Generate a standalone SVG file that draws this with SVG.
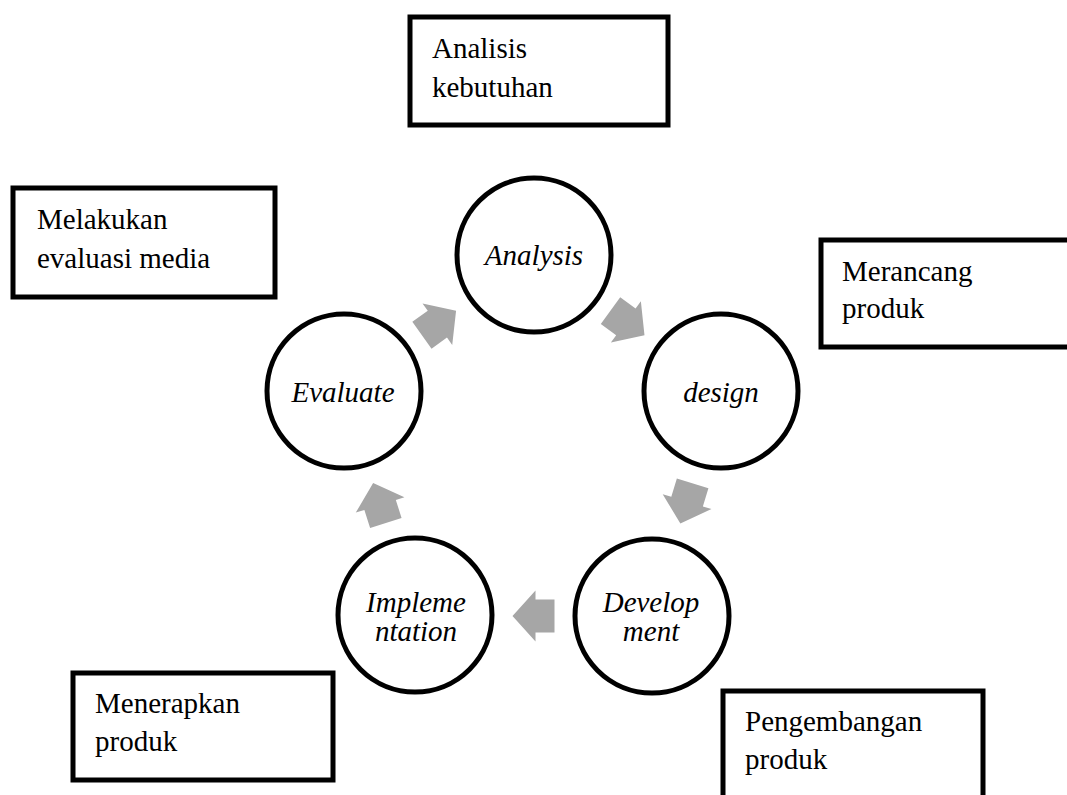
<svg xmlns="http://www.w3.org/2000/svg" width="1067" height="795" viewBox="0 0 1067 795">
<style>
.box{fill:#fff;stroke:#000;stroke-width:5}
.circ{fill:#fff;stroke:#000;stroke-width:5}
.bt{font-family:"Liberation Serif","Times New Roman",serif;font-size:29px;fill:#000}
.ct{font-family:"Liberation Serif","Times New Roman",serif;font-size:29px;font-style:italic;fill:#000;text-anchor:middle}
.arr{fill:#A6A6A6}
</style>
<defs>
<polygon id="blk" points="-21,-16.5 -2,-16.5 -2,-25.5 21,0 -2,25.5 -2,16.5 -21,16.5"/>
</defs>
<rect width="1067" height="795" fill="#fff"/>
<g id="connectors">
<use href="#blk" class="arr" transform="translate(439,323) rotate(-35.6)"/>
<use href="#blk" class="arr" transform="translate(627.5,323) rotate(36)"/>
<use href="#blk" class="arr" transform="translate(686.5,503.5) rotate(107)"/>
<use href="#blk" class="arr" transform="translate(533.5,616) rotate(180)"/>
<use href="#blk" class="arr" transform="translate(379.5,503) rotate(-107.6)"/>
</g>
<g id="analysis">
<circle class="circ" cx="534" cy="255" r="77"/>
<text class="ct" x="534" y="265">Analysis</text>
</g>
<g id="design">
<circle class="circ" cx="721" cy="391" r="77"/>
<text class="ct" x="721" y="402">design</text>
</g>
<g id="development">
<circle class="circ" cx="652" cy="616" r="77"/>
<text class="ct" x="651" y="612">Develop</text>
<text class="ct" x="651" y="641">ment</text>
</g>
<g id="implementation">
<circle class="circ" cx="415" cy="615" r="77"/>
<text class="ct" x="416" y="612">Impleme</text>
<text class="ct" x="416" y="641">ntation</text>
</g>
<g id="evaluate">
<circle class="circ" cx="344" cy="391" r="77"/>
<text class="ct" x="343" y="402">Evaluate</text>
</g>
<g id="box-analisis">
<rect class="box" x="410" y="17" width="258" height="108"/>
<text class="bt" x="432" y="58">Analisis</text>
<text class="bt" x="432" y="97">kebutuhan</text>
</g>
<g id="box-melakukan">
<rect class="box" x="13" y="188" width="262" height="109"/>
<text class="bt" x="37" y="229">Melakukan</text>
<text class="bt" x="37" y="268">evaluasi media</text>
</g>
<g id="box-merancang">
<rect class="box" x="821" y="240" width="260" height="107"/>
<text class="bt" x="842" y="281">Merancang</text>
<text class="bt" x="842" y="318">produk</text>
</g>
<g id="box-menerapkan">
<rect class="box" x="73" y="673" width="260" height="107"/>
<text class="bt" x="95" y="713">Menerapkan</text>
<text class="bt" x="95" y="751">produk</text>
</g>
<g id="box-pengembangan">
<rect class="box" x="723" y="691" width="260" height="120"/>
<text class="bt" x="745" y="731">Pengembangan</text>
<text class="bt" x="745" y="769">produk</text>
</g>
</svg>
